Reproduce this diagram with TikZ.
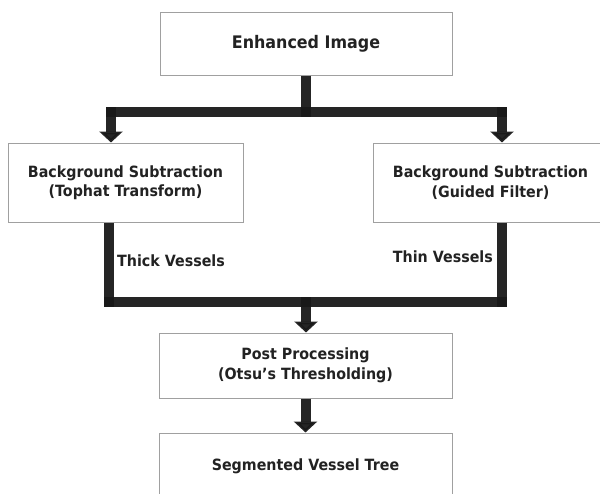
\documentclass[tikz,border=0pt]{standalone}
\usepackage{fontspec}
\setmainfont{DejaVu Sans}[FakeStretch=0.92]
\usetikzlibrary{arrows.meta}

\definecolor{flow}{RGB}{25,25,25}
\definecolor{frame}{RGB}{160,160,160}
\definecolor{ink}{RGB}{34,34,34}

\tikzset{
  box/.style={draw=frame, line width=1pt, fill=white, inner sep=0pt,
    align=center, text=ink, font=\bfseries\fontsize{15.5}{19.5}\selectfont},
  lbl/.style={inner sep=0pt, text=ink, font=\bfseries\fontsize{15.5}{19.5}\selectfont},
  bar/.style={draw=flow, opacity=0.945, line width=10pt, line cap=butt},
  head/.style={bar, -{Triangle[length=11pt, width=23pt]}},
}

\begin{document}
\begin{tikzpicture}[x=1pt, y=-1pt]
  \clip (0,0) rectangle (600,493);
  \fill[white] (0,0) rectangle (600,493);

  % process boxes
  \node[box, minimum width=292, minimum height=63,
        font=\bfseries\fontsize{17.3}{20}\selectfont] (top) at (306,43.5) {Enhanced Image};
  \node[box, minimum width=235, minimum height=79] (lb) at (125.5,182.5)
        {Background Subtraction\\(Tophat Transform)};
  \node[box, minimum width=235, minimum height=79] (rb) at (490.5,182.5)
        {Background Subtraction\\(Guided Filter)};
  \node[box, minimum width=293, minimum height=65] (pp) at (305.5,365.5)
        {Post Processing\\(Otsu’s Thresholding)};
  \node[box, minimum width=293, minimum height=66] (seg) at (305.5,466)
        {Segmented Vessel Tree};

  % branch labels
  \node[lbl, anchor=west] (thick) at (117,261) {Thick Vessels};
  \node[lbl, anchor=east] (thin) at (493,257) {Thin Vessels};

  % split bus below the input box
  \coordinate (stemEnd) at (306,117);
  \coordinate (splitL) at (106,112);
  \coordinate (splitR) at (507,112);
  \coordinate (dropL) at (111,107);
  \coordinate (dropR) at (502,107);
  \draw[bar] (top.south) -- (stemEnd);
  \draw[bar] (splitL) -- (splitR);
  \draw[head] (dropL) -- (dropL |- lb.north);
  \draw[head] (dropR) -- (dropR |- rb.north);

  % merge bus above post processing
  \coordinate (riseL) at (109,307);
  \coordinate (riseR) at (502,307);
  \coordinate (joinL) at (104,302);
  \coordinate (joinR) at (507,302);
  \coordinate (joinC) at (306,297);
  \draw[bar] (riseL |- lb.south) -- (riseL);
  \draw[bar] (riseR |- rb.south) -- (riseR);
  \draw[bar] (joinL) -- (joinR);
  \draw[head] (joinC) -- (joinC |- pp.north);

  % final step
  \draw[head] (pp.south) -- (seg.north);
\end{tikzpicture}
\end{document}
